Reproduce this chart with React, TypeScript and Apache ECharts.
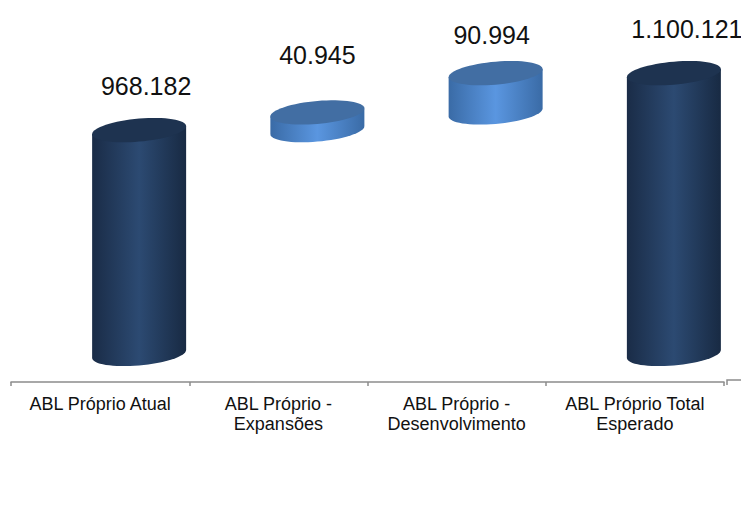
import React, { useEffect, useRef } from "react";
import * as echarts from "echarts";

const categories = [
  "ABL Próprio Atual",
  "ABL Próprio -\nExpansões",
  "ABL Próprio -\nDesenvolvimento",
  "ABL Próprio Total\nEsperado",
];
// Lower and upper end of each floating cylinder, in m².
const floorValue = 450000;
const segmentStarts = [floorValue, 968182, 1009127, floorValue];
const segmentEnds = [968182, 1009127, 1100121, 1100121];
const statedValues = [968182, 40945, 90994, 1100121];

const FONT = '"Liberation Sans", Arial, sans-serif';
const AXIS_COLOR = "#8c8c8c";

// Placement of cylinders and value captions relative to their category band.
const DEPTH_SHIFT = 39;
const captionShiftX = [7, 0, -4, 13];
const captionShiftY = [-44, -57, -38, -44];
const RADIUS_X = 47;
const RADIUS_Y = 11.5;
const TILT = 4;

const darkPalette = {
  top: "#1e3350",
  side: [
    [0, "#1a2c47"],
    [0.5, "#2c4a72"],
    [1, "#182a43"],
  ],
};
const lightPalette = {
  top: "#426ea3",
  side: [
    [0, "#3a6ba6"],
    [0.5, "#5a96e0"],
    [1, "#3a6ba6"],
  ],
};

const formatThousands = (v: number) =>
  String(v).replace(/\B(?=(\d{3})+(?!\d))/g, ".");

// Point on a sheared ellipse, which gives the tilted look of the cylinder caps.
const rimPoint = (cx: number, cy: number, t: number) => [
  cx + RADIUS_X * Math.cos(t),
  cy + RADIUS_Y * Math.sin(t) - TILT * Math.cos(t),
];

const renderCylinder = (params: any, api: any) => {
  const index = api.value(0);
  const [bandX, bottomY] = api.coord([index, api.value(1)]);
  const topY = api.coord([index, api.value(2)])[1];
  const cx = bandX + DEPTH_SHIFT;
  const palette = index === 0 || index === 3 ? darkPalette : lightPalette;

  const steps = 64;
  const cap: number[][] = [];
  for (let i = 0; i < steps; i++) {
    cap.push(rimPoint(cx, topY, (i / steps) * Math.PI * 2));
  }
  const side: number[][] = [rimPoint(cx, topY, Math.PI), rimPoint(cx, topY, 0)];
  for (let i = 0; i <= steps / 2; i++) {
    side.push(rimPoint(cx, bottomY, (i / (steps / 2)) * Math.PI));
  }

  return {
    type: "group",
    children: [
      {
        type: "polygon",
        shape: { points: side },
        style: {
          fill: new echarts.graphic.LinearGradient(
            0,
            0,
            1,
            0,
            palette.side.map(([offset, color]) => ({ offset, color })) as any
          ),
        },
      },
      {
        type: "polygon",
        shape: { points: cap },
        style: { fill: palette.top },
      },
      {
        type: "text",
        style: {
          text: formatThousands(statedValues[index]),
          x: cx + captionShiftX[index],
          y: topY + captionShiftY[index],
          fontSize: 25,
          fontFamily: FONT,
          fill: "#111111",
          align: "center",
          verticalAlign: "middle",
        },
      },
    ],
  };
};

export default function App() {
  const ref = useRef<HTMLDivElement>(null);

  useEffect(() => {
    const chart = echarts.init(ref.current!, undefined, { renderer: "svg" });
    chart.setOption({
      animation: false,
      backgroundColor: "#ffffff",
      grid: { left: 11, right: 17, top: 30, height: 352 },
      xAxis: {
        type: "category",
        data: categories,
        boundaryGap: true,
        axisLine: { show: true, lineStyle: { color: AXIS_COLOR, width: 1.5 } },
        axisTick: { show: true, length: 4, lineStyle: { color: AXIS_COLOR, width: 1.5 } },
        axisLabel: {
          interval: 0,
          margin: 12,
          fontFamily: FONT,
          fontSize: 18,
          lineHeight: 20,
          color: "#111111",
        },
      },
      yAxis: {
        type: "value",
        show: false,
        min: 385000,
        max: 1200000,
        splitLine: { show: false },
      },
      series: [
        {
          type: "custom",
          clip: false,
          renderItem: renderCylinder,
          encode: { x: 0, y: [1, 2] },
          data: categories.map((_, i) => [i, segmentStarts[i], segmentEnds[i]]),
        },
      ],
      graphic: [
        {
          type: "polyline",
          shape: { points: [[727, 385], [727, 380], [741, 380]] },
          style: { stroke: AXIS_COLOR, lineWidth: 1.5, fill: "none" },
        },
      ],
    });
    return () => chart.dispose();
  }, []);

  return (
    <div
      ref={ref}
      style={{ position: "absolute", left: 0, top: 0, width: 741, height: 526 }}
    />
  );
}
